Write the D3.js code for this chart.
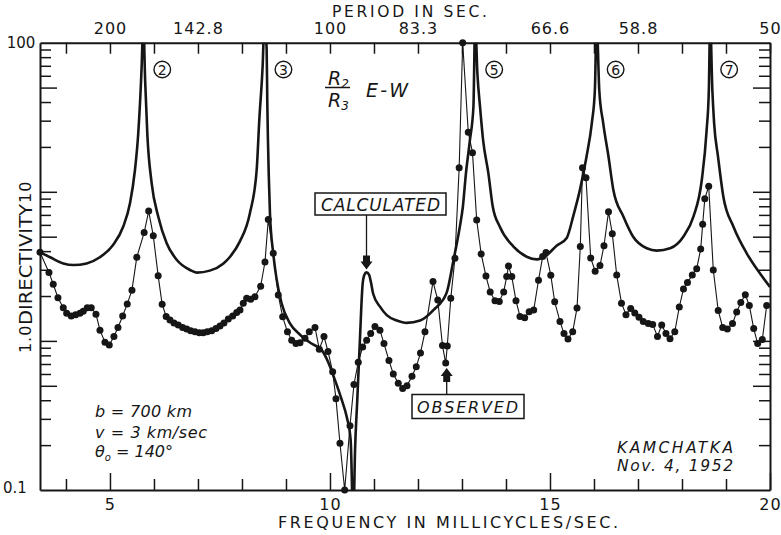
<!DOCTYPE html>
<html>
<head>
<meta charset="utf-8">
<script src="https://cdn.jsdelivr.net/npm/d3@7"></script>
<style>
  body { margin: 0; background: #fff; }
  svg { display: block; }
  text { font-family: "DejaVu Sans", sans-serif; fill: #161616; }
</style>
</head>
<body>
<svg id="chart" width="781" height="535"></svg>
<script>
// ---- Data ---------------------------------------------------------------
// Calculated directivity R2/R3 (E-W), frequency in millicycles/sec
const calcFreq = [3.41, 3.64, 3.94, 4.17, 4.47, 4.77, 5.07, 5.30, 5.455, 5.568, 5.643, 5.72, 5.757, 5.80, 5.85,
  5.948, 6.098, 6.289, 6.52, 6.82, 6.97, 7.27, 7.58, 7.73, 7.95, 8.18, 8.334, 8.393, 8.47, 8.511, 8.561, 8.575,
  8.61, 8.636, 8.71, 8.79, 8.90, 9.09, 9.32, 9.58, 9.81, 9.96, 10.11, 10.27, 10.38, 10.47, 10.53, 10.57, 10.62,
  10.68, 10.74, 10.78, 10.83, 10.89, 10.93, 10.98, 11.14, 11.29, 11.52, 11.74, 12.05, 12.35, 12.65, 12.80, 12.95,
  13.02, 13.09, 13.18, 13.26, 13.30, 13.35, 13.41, 13.48, 13.60, 13.70, 13.86, 14.17, 14.47, 14.70, 14.93, 15.15,
  15.38, 15.53, 15.68, 15.83, 15.95, 16.02, 16.06, 16.12, 16.21, 16.33, 16.44, 16.67, 16.89, 17.20, 17.43, 17.73,
  18.03, 18.26, 18.45, 18.56, 18.61, 18.64, 18.69, 18.73, 18.82, 18.94, 19.17, 19.47, 19.77, 20.0];
const calcVal = [3.93, 3.64, 3.31, 3.23, 3.31, 3.64, 4.40, 5.83, 8.37, 14.0, 24.7, 69, 140, 55, 24,
  11.4, 6.81, 4.52, 3.49, 2.99, 2.87, 2.96, 3.31, 3.67, 4.63, 7.18, 14, 30, 70, 140, 90, 41,
  12.6, 7.18, 3.87, 2.56, 1.79, 1.31, 1.10, 0.96, 0.87, 0.72, 0.55, 0.40, 0.31, 0.216, 0.06, 0.186, 0.40,
  1.01, 2.37, 2.77, 2.88, 2.77, 2.48, 2.08, 1.69, 1.49, 1.37, 1.32, 1.37, 1.61, 2.1, 3.4, 5.8,
  7.94, 13.3, 22.2, 37.2, 140, 62.4, 37.2, 22.2, 13.3, 7.94, 5.83, 4.29, 3.67, 3.52, 3.77, 4.35,
  4.9, 6.9, 10.3, 17.2, 28.8, 48, 140, 48, 28.8, 17.2, 10.3, 6.81, 5.0, 4.18, 4.03, 4.18,
  5.0, 6.81, 12.0, 25.9, 48, 140, 48, 28.9, 17.1, 9.27, 5.83, 3.87, 2.84, 2.30];

// Observed directivity, Kamchatka Nov. 4, 1952
const obsFreq = [3.41, 3.614, 3.711, 3.818, 3.939, 4.016, 4.12, 4.22, 4.318, 4.393, 4.484, 4.575, 4.682, 4.773,
  4.886, 4.984, 5.09, 5.182, 5.289, 5.393, 5.5, 5.61, 5.777, 5.88, 5.984, 6.095, 6.186, 6.277, 6.364, 6.455,
  6.553, 6.652, 6.743, 6.834, 6.932, 7.03, 7.12, 7.211, 7.311, 7.409, 7.5, 7.59, 7.689, 7.789, 7.88, 7.955,
  8.03, 8.107, 8.198, 8.295, 8.425, 8.523, 8.598, 8.711, 8.825, 8.925, 9.034, 9.13, 9.227, 9.318, 9.432,
  9.53, 9.66, 9.757, 9.864, 9.955, 10.061, 10.136, 10.227, 10.334, 10.455, 10.545, 10.643, 10.743, 10.834,
  10.925, 11.023, 11.136, 11.227, 11.34, 11.439, 11.552, 11.652, 11.75, 11.864, 11.961, 12.057, 12.159,
  12.341, 12.45, 12.557, 12.63, 12.666, 12.745, 12.84, 12.936, 13.016, 13.143, 13.239, 13.334, 13.436,
  13.545, 13.641, 13.75, 13.848, 13.948, 14.016, 14.057, 14.132, 14.227, 14.318, 14.425, 14.527, 14.63,
  14.739, 14.834, 14.909, 15.018, 15.107, 15.227, 15.318, 15.409, 15.516, 15.614, 15.689, 15.739, 15.818,
  15.925, 16.027, 16.136, 16.227, 16.33, 16.416, 16.516, 16.625, 16.727, 16.834, 16.927, 17.023, 17.12,
  17.234, 17.334, 17.443, 17.539, 17.636, 17.727, 17.836, 17.939, 18.034, 18.125, 18.234, 18.334, 18.425,
  18.47, 18.518, 18.607, 18.711, 18.823, 18.925, 19.03, 19.148, 19.243, 19.336, 19.439, 19.53, 19.63,
  19.72, 19.825, 19.925];
const obsVal = [3.93, 2.88, 2.40, 1.95, 1.67, 1.53, 1.47, 1.50, 1.53, 1.58, 1.67, 1.67, 1.51, 1.18,
  0.98, 0.94, 1.07, 1.23, 1.47, 1.77, 2.19, 3.64, 5.33, 7.43, 5.08, 2.74, 1.76, 1.46, 1.38, 1.32,
  1.28, 1.23, 1.20, 1.17, 1.15, 1.135, 1.135, 1.15, 1.17, 1.21, 1.26, 1.32, 1.40, 1.47, 1.55, 1.61,
  1.79, 1.93, 1.90, 1.98, 2.33, 3.38, 6.52, 3.87, 2.03, 1.45, 1.15, 1.01, 0.96, 0.97, 1.04,
  1.15, 1.23, 0.88, 1.07, 0.85, 0.62, 0.41, 0.206, 0.10, 0.27, 0.51, 0.72, 0.91, 1.01,
  1.12, 1.25, 1.18, 0.96, 0.74, 0.60, 0.52, 0.48, 0.50, 0.58, 0.67, 0.83, 1.15,
  2.50, 1.88, 0.93, 0.71, 0.925, 1.93, 3.58, 14.5, 100, 25.1, 18.3, 6.47, 3.83,
  2.72, 2.13, 1.86, 1.84, 2.13, 2.70, 3.18, 2.70, 1.86, 1.46, 1.43, 1.57, 1.61,
  2.55, 3.68, 3.91, 2.76, 1.83, 1.35, 1.12, 1.03, 1.15, 1.66, 4.29, 14.5, 12.4,
  3.60, 2.93, 3.20, 4.35, 7.34, 5.24, 2.77, 1.79, 1.50, 1.65, 1.54, 1.44, 1.35,
  1.31, 1.29, 1.07, 1.28, 1.12, 1.035, 1.15, 1.69, 2.23, 2.46, 2.77, 3.05, 4.13,
  6.06, 8.97, 10.9, 2.99, 1.60, 1.23, 1.20, 1.31, 1.56, 1.81, 2.04, 1.73, 1.21,
  0.96, 1.02, 1.73];

// Mode numbers and their calculated resonance frequencies
const modeNumbers = ["2", "3", "5", "6", "7"];
const modeFreqs = [5.757, 8.511, 13.30, 16.06, 18.64];

// Axis ticks and labels
const freqTicks = [4, 5, 6, 7, 8, 9, 10, 11, 12, 13, 14, 15, 16, 17, 18, 19, 20];
const freqLabels = [5, 10, 15, 20];
const periodFreqs = [5, 7, 10, 12, 15, 17, 20];
const periodLabels = ["200", "142.8", "100", "83.3", "66.6", "58.8", "50"];
const dirTicks = [0.2, 0.3, 0.4, 0.5, 0.6, 0.7, 0.8, 0.9, 1, 2, 3, 4, 5, 6, 7, 8, 9, 10, 20, 30, 40, 50, 60, 70, 80, 90];
const dirLongTicks = [0.5, 1, 5, 10, 50];

// Arrow annotation targets
const calcMarkFreq = 10.83, calcMarkVal = 2.88;
const obsMarkFreq = 12.63, obsMarkVal = 0.71;

// ---- Scales -------------------------------------------------------------
const ink = "#161616";
const x = d3.scaleLinear().domain([3.41, 20]).range([40, 770]);
const y = d3.scaleLog().domain([0.1, 100]).range([490, 42.7]);
const [x0, x1] = x.range();
const [yB, yT] = y.range();

const svg = d3.select("#chart");

svg.append("defs").append("clipPath").attr("id", "plotArea")
  .append("rect").attr("x", x0).attr("y", yT).attr("width", x1 - x0).attr("height", yB - yT);

// ---- Axes (ticks point inward, frame drawn by the domain lines) ---------
function styleAxis(g) {
  g.attr("font-family", null).attr("font-size", null);
  g.select(".domain").attr("stroke", ink).attr("stroke-width", 2);
  g.selectAll(".tick line").attr("stroke", ink).attr("stroke-width", 1.5);
  g.selectAll(".tick text").attr("fill", ink).style("font-size", "16px").style("letter-spacing", "1px");
}

const gBottom = svg.append("g").attr("transform", `translate(0,${yB})`)
  .call(d3.axisBottom(x).tickValues(freqTicks).tickSize(-11).tickSizeOuter(0).tickPadding(9)
    .tickFormat(d => freqLabels.includes(d) ? String(d) : ""));
gBottom.selectAll(".tick line").attr("y2", d => freqLabels.includes(d) ? -17 : -11);
styleAxis(gBottom);

const gTop = svg.append("g").attr("transform", `translate(0,${yT})`)
  .call(d3.axisTop(x).tickValues(freqTicks).tickSize(-11).tickSizeOuter(0).tickPadding(9)
    .tickFormat(d => { const i = periodFreqs.indexOf(d); return i >= 0 ? periodLabels[i] : ""; }));
styleAxis(gTop);

const gLeft = svg.append("g").attr("transform", `translate(${x0},0)`)
  .call(d3.axisLeft(y).tickValues(dirTicks).tickSize(-11).tickSizeOuter(0).tickFormat(""));
gLeft.selectAll(".tick line").attr("x2", d => dirLongTicks.includes(d) ? 17 : 11);
styleAxis(gLeft);

const gRight = svg.append("g").attr("transform", `translate(${x1},0)`)
  .call(d3.axisRight(y).tickValues(dirTicks).tickSize(-11).tickSizeOuter(0).tickFormat(""));
gRight.selectAll(".tick line").attr("x2", d => dirLongTicks.includes(d) ? -17 : -11);
styleAxis(gRight);

// Y labels
svg.append("text").attr("x", 21).attr("y", y(100) + 5).attr("text-anchor", "middle")
  .style("font-size", "15px").text("100");
svg.append("text").attr("x", 15).attr("y", y(0.1) + 3).attr("text-anchor", "middle")
  .style("font-size", "15px").text("0.1");
[[10, "10", 0], [1, "1.0", -2]].forEach(([v, t, dy]) => {
  svg.append("text").attr("transform", `translate(31,${y(v) + dy}) rotate(-90)`)
    .attr("text-anchor", "middle").style("font-size", "16px").style("letter-spacing", "1px").text(t);
});
svg.append("text").attr("transform", "translate(32,264.5) rotate(-90)")
  .attr("text-anchor", "middle").style("font-size", "18px")
  .attr("textLength", 121).attr("lengthAdjust", "spacingAndGlyphs").text("DIRECTIVITY");

// Axis titles
svg.append("text").attr("x", 278).attr("y", 528).style("font-size", "16px")
  .attr("textLength", 340).attr("lengthAdjust", "spacing").text("FREQUENCY IN MILLICYCLES/SEC.");
svg.append("text").attr("x", 332).attr("y", 16.5).style("font-size", "15.5px")
  .attr("textLength", 155).attr("lengthAdjust", "spacing").text("PERIOD IN SEC.");

// ---- Curves --------------------------------------------------------------
const calcData = calcFreq.map((f, i) => [f, calcVal[i]]);
const obsData = obsFreq.map((f, i) => [f, obsVal[i]]);

svg.append("path").datum(calcData).attr("clip-path", "url(#plotArea)")
  .attr("d", d3.line().x(d => x(d[0])).y(d => y(d[1])).curve(d3.curveMonotoneX))
  .attr("fill", "none").attr("stroke", ink).attr("stroke-width", 2.6).attr("stroke-linejoin", "round");

svg.append("path").datum(obsData)
  .attr("d", d3.line().x(d => x(d[0])).y(d => y(d[1])))
  .attr("fill", "none").attr("stroke", ink).attr("stroke-width", 1.1);

svg.append("g").selectAll("circle").data(obsData).join("circle")
  .attr("cx", d => x(d[0])).attr("cy", d => y(d[1])).attr("r", 3.5).attr("fill", ink);

// ---- Mode numbers --------------------------------------------------------
const modes = svg.append("g").selectAll("g").data(modeFreqs).join("g")
  .attr("transform", d => `translate(${x(d) + 19},69.5)`);
modes.append("circle").attr("r", 8.3).attr("fill", "none").attr("stroke", ink).attr("stroke-width", 1.4);
modes.append("text").attr("text-anchor", "middle").attr("y", 5).style("font-size", "14px")
  .text((d, i) => modeNumbers[i]);

// ---- Ratio label ----------------------------------------------------------
const ratio = svg.append("g").style("font-style", "italic");
ratio.append("text").attr("x", 328).attr("y", 85).style("font-size", "19px")
  .html('R<tspan dy="3" style="font-size:12px">2</tspan>');
ratio.append("line").attr("x1", 325).attr("x2", 350).attr("y1", 87.5).attr("y2", 87.5)
  .attr("stroke", ink).attr("stroke-width", 1.5);
ratio.append("text").attr("x", 328).attr("y", 107).style("font-size", "19px")
  .html('R<tspan dy="3" style="font-size:12px">3</tspan>');
ratio.append("text").attr("x", 366).attr("y", 97).style("font-size", "19px")
  .attr("textLength", 42).attr("lengthAdjust", "spacing").text("E-W");

// ---- Boxed annotations with arrows ---------------------------------------
function arrowPath(cx, tipY, dir) {
  // dir = +1 points down, -1 points up
  const head = 8, half = 6, stemW = 3.5, stemH = 6;
  const baseY = tipY - dir * head;
  const stemY = baseY - dir * stemH;
  return `M${cx},${tipY} L${cx - half},${baseY} L${cx - stemW},${baseY} L${cx - stemW},${stemY}` +
         ` L${cx + stemW},${stemY} L${cx + stemW},${baseY} L${cx + half},${baseY} Z`;
}

// CALCULATED
const cx1 = x(calcMarkFreq), tip1 = y(calcMarkVal) - 3;
svg.append("rect").attr("x", 315).attr("y", 193).attr("width", 131).attr("height", 22)
  .attr("fill", "#fff").attr("stroke", ink).attr("stroke-width", 1.5);
svg.append("text").attr("x", 321).attr("y", 211).style("font-size", "17px").style("font-style", "italic")
  .attr("textLength", 119).attr("lengthAdjust", "spacing").text("CALCULATED");
svg.append("line").attr("x1", cx1).attr("x2", cx1).attr("y1", 215).attr("y2", tip1 - 12)
  .attr("stroke", ink).attr("stroke-width", 1.3);
svg.append("path").attr("d", arrowPath(cx1, tip1, 1)).attr("fill", ink);

// OBSERVED
const cx2 = x(obsMarkFreq) + 1, tip2 = y(obsMarkVal) + 5;
svg.append("rect").attr("x", 412).attr("y", 394.5).attr("width", 112).attr("height", 24)
  .attr("fill", "#fff").attr("stroke", ink).attr("stroke-width", 1.5);
svg.append("text").attr("x", 417).attr("y", 413).style("font-size", "16px").style("font-style", "italic")
  .attr("textLength", 101).attr("lengthAdjust", "spacing").text("OBSERVED");
svg.append("line").attr("x1", cx2).attr("x2", cx2).attr("y1", 394.5).attr("y2", tip2 + 12)
  .attr("stroke", ink).attr("stroke-width", 1.3);
svg.append("path").attr("d", arrowPath(cx2, tip2, -1)).attr("fill", ink);

// ---- Parameters and event ---------------------------------------------------
const params = svg.append("g").style("font-style", "italic").style("font-size", "16px");
params.append("text").attr("x", 95).attr("y", 417).attr("textLength", 97).attr("lengthAdjust", "spacing")
  .text("b = 700 km");
params.append("text").attr("x", 95).attr("y", 438).attr("textLength", 112).attr("lengthAdjust", "spacing")
  .text("v = 3 km/sec");
params.append("text").attr("x", 95).attr("y", 457)
  .html('θ<tspan dy="4" style="font-size:10px">o</tspan><tspan dy="-4"> = 140°</tspan>');

const event = svg.append("g").style("font-style", "italic").style("font-size", "15.5px");
event.append("text").attr("x", 617).attr("y", 453).attr("textLength", 116).attr("lengthAdjust", "spacing")
  .text("KAMCHATKA");
event.append("text").attr("x", 617).attr("y", 471).attr("textLength", 116).attr("lengthAdjust", "spacing")
  .text("Nov. 4, 1952");
</script>
</body>
</html>
